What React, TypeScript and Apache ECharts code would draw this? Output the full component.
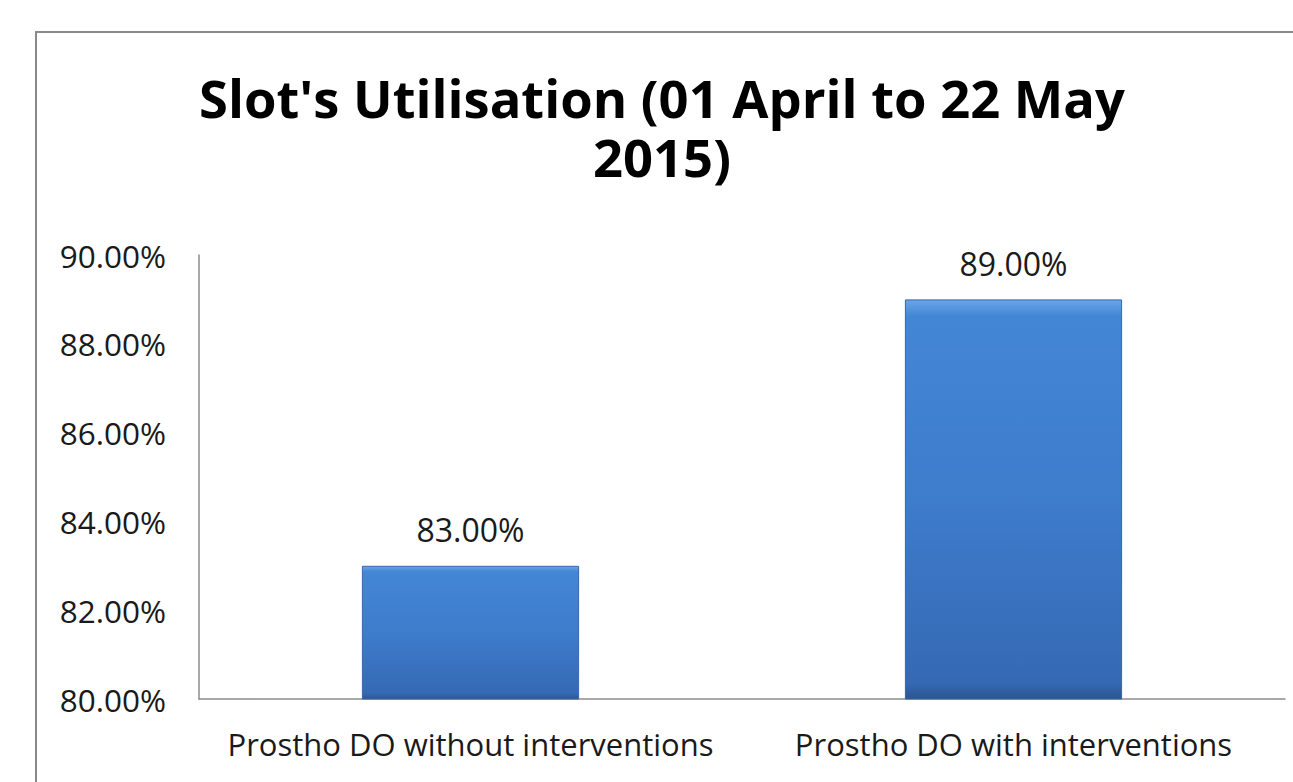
import React, { useEffect, useRef } from "react";
import * as echarts from "echarts";

const categories = ["Prostho DO without interventions", "Prostho DO with interventions"];
const values = [83, 89];
const yMin = 80;
const yMax = 90;
const yInterval = 2;
const titleLine1 = "Slot's Utilisation (01 April to 22 May";
const titleLine2 = "2015)";

export default function App() {
  const ref = useRef<HTMLDivElement>(null);
  useEffect(() => {
    if (!ref.current) return;
    const chart = echarts.init(ref.current, null, { renderer: "svg" });
    const font = "Open Sans";
    const titleStyle = {
      fontFamily: font,
      fontWeight: "bold",
      fontSize: 52.5,
      lineHeight: 52,
      color: "#000000",
    };
    chart.setOption({
      animation: false,
      backgroundColor: "#ffffff",
      title: {
        text: titleLine1,
        subtext: titleLine2,
        left: 662,
        textAlign: "center",
        top: 71,
        itemGap: 6,
        padding: 0,
        textStyle: titleStyle,
        subtextStyle: titleStyle,
      },
      graphic: [
        {
          type: "rect",
          shape: { x: 36, y: 32, width: 1300, height: 800 },
          style: { fill: "none", stroke: "#8a8a8a", lineWidth: 2 },
          silent: true,
          z: -1,
        },
      ],
      grid: { left: 199, right: 8, top: 255, bottom: 83 },
      xAxis: {
        type: "category",
        data: categories,
        axisLine: { show: true, lineStyle: { color: "#8c8c8c", width: 1.5 } },
        axisTick: { show: false },
        axisLabel: {
          fontFamily: font,
          fontSize: 31,
          color: "#1a1a1a",
          margin: 29,
          interval: 0,
        },
      },
      yAxis: {
        type: "value",
        min: yMin,
        max: yMax,
        interval: yInterval,
        splitLine: { show: false },
        axisLine: { show: true, lineStyle: { color: "#8c8c8c", width: 1.5 } },
        axisTick: { show: false },
        axisLabel: {
          fontFamily: font,
          fontSize: 31.5,
          color: "#1a1a1a",
          margin: 33,
          formatter: (v: number) => v.toFixed(2) + "%",
        },
      },
      series: [
        {
          type: "bar",
          data: values,
          barWidth: "40%",
          itemStyle: {
            color: new echarts.graphic.LinearGradient(0, 0, 0, 1, [
              { offset: 0, color: "#6aa6e8" },
              { offset: 0.04, color: "#4486d6" },
              { offset: 0.5, color: "#3e7ccc" },
              { offset: 0.96, color: "#3569b4" },
              { offset: 1, color: "#2b5690" },
            ]),
            borderColor: "#3467ad",
            borderWidth: 1,
          },
          label: {
            show: true,
            position: "top",
            distance: 20,
            fontFamily: font,
            fontSize: 32,
            color: "#1a1a1a",
            formatter: (p: any) => Number(p.value).toFixed(2) + "%",
          },
        },
      ],
    });
    return () => chart.dispose();
  }, []);
  return (
    <div
      ref={ref}
      style={{ position: "fixed", left: 0, top: 0, width: 1293, height: 782 }}
    />
  );
}
